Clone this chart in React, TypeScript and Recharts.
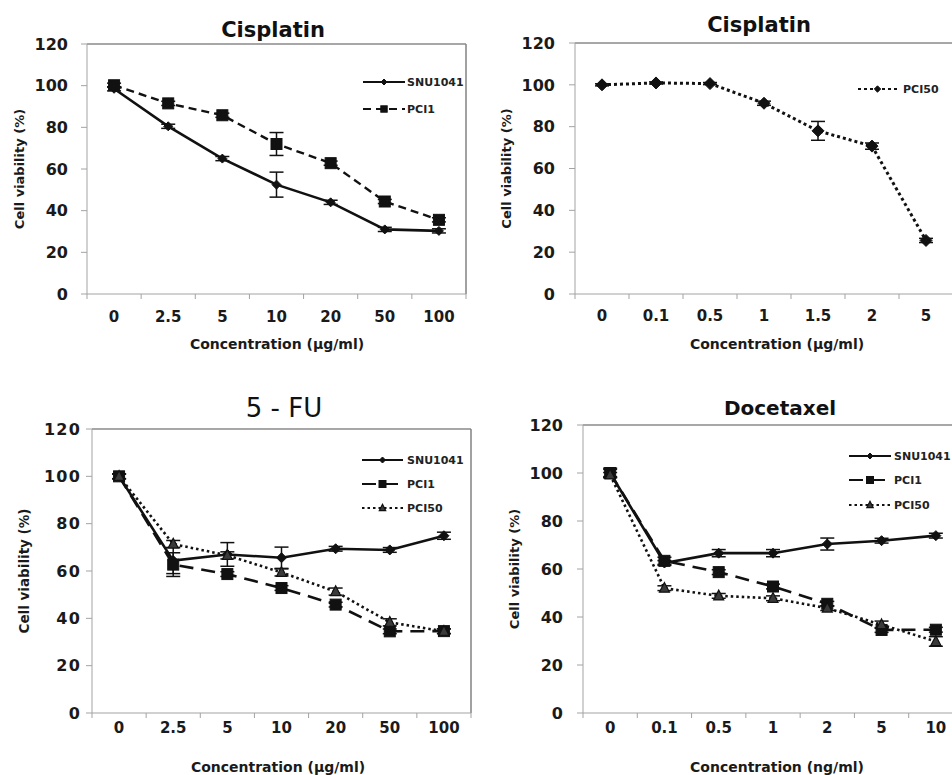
import React from "react";
import { LineChart, Line, XAxis, YAxis, ReferenceLine, ErrorBar } from "recharts";

const FONT = '"DejaVu Sans", "Noto Sans", sans-serif';
const AXIS = "#a3a3a3";
const FRAME = "#8a8a8a";
const INK = "#111";
const Y_AXIS_W = 40;
const X_AXIS_H = 30;

// ---------- data ----------
const yTicks = [0, 20, 40, 60, 80, 100, 120];

const cisplatinDoses = ["0", "2.5", "5", "10", "20", "50", "100"];
const cisSNU1041 = [98.5, 80.5, 65, 52.5, 44, 31, 30.3];
const cisSNU1041Err = [1, 1, 1, 6, 1, 1, 1];
const cisPCI1 = [100.2, 91.5, 85.8, 72, 62.8, 44.4, 35.6];
const cisPCI1Err = [1, 1, 1, 5.5, 1, 1, 1];

const cisplatinLowDoses = ["0", "0.1", "0.5", "1", "1.5", "2", "5"];
const cisPCI50 = [100, 100.9, 100.6, 91.2, 78, 70.7, 25.6];
const cisPCI50Err = [0.5, 0.5, 0.5, 1, 4.5, 1.5, 1];

const fuDoses = ["0", "2.5", "5", "10", "20", "50", "100"];
const fuSNU1041 = [100, 64.4, 67, 65.6, 69.4, 68.9, 74.9];
const fuSNU1041Err = [1, 5.5, 5, 4.5, 1, 1, 1.5];
const fuPCI1 = [100, 62.7, 58.7, 52.8, 45.8, 34.5, 34.6];
const fuPCI1Err = [1, 5, 1, 1, 1, 1, 1];
const fuPCI50 = [100, 71.4, 66.6, 59.4, 51.3, 38.3, 34.5];
const fuPCI50Err = [1, 1.5, 1.5, 1.5, 1.5, 1.5, 1];

const docetaxelDoses = ["0", "0.1", "0.5", "1", "2", "5", "10"];
const docSNU1041 = [100, 62.5, 66.6, 66.6, 70.4, 71.8, 73.9];
const docSNU1041Err = [1.5, 1, 1.5, 1.5, 2.5, 1, 1];
const docPCI1 = [100, 63.4, 58.7, 52.7, 45.5, 34.6, 34.7];
const docPCI1Err = [2, 1.5, 1, 1, 1, 1, 1];
const docPCI50 = [99.2, 52, 48.8, 47.8, 43.7, 36.8, 29.8];
const docPCI50Err = [1, 1, 1, 1, 1, 1.5, 2];

// ---------- helpers ----------
type MarkerKind = "diamond" | "square" | "triangle";

function marker(kind: MarkerKind, cx: number, cy: number, s: number, fill: string, key?: string) {
  if (cx == null || cy == null) return <g key={key} />;
  if (kind === "diamond")
    return (
      <polygon key={key} points={`${cx},${cy - s} ${cx + s},${cy} ${cx},${cy + s} ${cx - s},${cy}`}
        fill={fill} stroke={INK} strokeWidth={1} />
    );
  if (kind === "square")
    return <rect key={key} x={cx - s} y={cy - s} width={2 * s} height={2 * s} fill={fill} stroke={INK} strokeWidth={1} />;
  return (
    <polygon key={key} points={`${cx},${cy - s * 1.15} ${cx + s},${cy + s * 0.8} ${cx - s},${cy + s * 0.8}`}
      fill={fill} stroke={INK} strokeWidth={1.2} />
  );
}

interface SeriesDef {
  key: string;
  name: string;
  values: number[];
  errors: number[];
  dash?: string;
  width: number;
  marker: MarkerKind;
  size: number;
  legendSize: number;
  fill: string;
}

interface PanelDef {
  id: string;
  box: { x: number; y: number; w: number; h: number };
  plot: { left: number; top: number; right: number; bottom: number };
  categories: string[];
  series: SeriesDef[];
  title: { text: string; cx: number; baseline: number; size: number; weight: string };
  xTitle: { text: string; cx: number; baseline: number };
  yTitle: { x: number; size: number };
  xTickDy: number;
  yTickGap: number;
  yTickSpacing: number;
  legend: { x1: number; x2: number; textX: number; rows: number[] };
}

const snu = (values: number[], errors: number[], size: number): SeriesDef => ({
  key: "snu", name: "SNU1041", values, errors, width: 2.6, marker: "diamond", size, legendSize: 3, fill: INK,
});

const panels: PanelDef[] = [
  {
    id: "p1",
    box: { x: 0, y: 0, w: 476, h: 380 },
    plot: { left: 87, top: 44, right: 466, bottom: 294 },
    categories: cisplatinDoses,
    series: [
      snu(cisSNU1041, cisSNU1041Err, 4.5),
      { key: "pci1", name: "PCI1", values: cisPCI1, errors: cisPCI1Err, dash: "8 5", width: 2.4, marker: "square", size: 5.5, legendSize: 3.2, fill: INK },
    ],
    title: { text: "Cisplatin", cx: 273, baseline: 37, size: 21, weight: "bold" },
    xTitle: { text: "Concentration (\u00b5g/ml)", cx: 277, baseline: 349 },
    yTitle: { x: 24, size: 13 },
    xTickDy: 27.5,
    yTickGap: 19,
    yTickSpacing: 0,
    legend: { x1: 363, x2: 405, textX: 407, rows: [82, 109] },
  },
  {
    id: "p2",
    box: { x: 476, y: 0, w: 500, h: 380 },
    plot: { left: 575, top: 43, right: 953, bottom: 294 },
    categories: cisplatinLowDoses,
    series: [
      { key: "pci50", name: "PCI50", values: cisPCI50, errors: cisPCI50Err, dash: "3 3", width: 3, marker: "diamond", size: 6, legendSize: 3.2, fill: INK },
    ],
    title: { text: "Cisplatin", cx: 759, baseline: 32, size: 21, weight: "bold" },
    xTitle: { text: "Concentration (\u00b5g/ml)", cx: 777, baseline: 349 },
    yTitle: { x: 511, size: 13 },
    xTickDy: 26.5,
    yTickGap: 20,
    yTickSpacing: 0,
    legend: { x1: 858, x2: 897, textX: 903, rows: [89] },
  },
  {
    id: "p3",
    box: { x: 0, y: 380, w: 476, h: 395 },
    plot: { left: 92, top: 429, right: 471, bottom: 713 },
    categories: fuDoses,
    series: [
      snu(fuSNU1041, fuSNU1041Err, 5),
      { key: "pci1", name: "PCI1", values: fuPCI1, errors: fuPCI1Err, dash: "14 8", width: 2.6, marker: "square", size: 5.5, legendSize: 3.5, fill: INK },
      { key: "pci50", name: "PCI50", values: fuPCI50, errors: fuPCI50Err, dash: "2.5 3", width: 2.6, marker: "triangle", size: 5, legendSize: 3.2, fill: "#3a3a3a" },
    ],
    title: { text: "5 - FU", cx: 284, baseline: 417, size: 26, weight: "normal" },
    xTitle: { text: "Concentration (\u00b5g/ml)", cx: 278, baseline: 772 },
    yTitle: { x: 29, size: 13.5 },
    xTickDy: 19.5,
    yTickGap: 11,
    yTickSpacing: 1.2,
    legend: { x1: 362, x2: 403, textX: 407, rows: [460, 484, 508] },
  },
  {
    id: "p4",
    box: { x: 476, y: 380, w: 500, h: 395 },
    plot: { left: 583, top: 425, right: 963, bottom: 713 },
    categories: docetaxelDoses,
    series: [
      snu(docSNU1041, docSNU1041Err, 5),
      { key: "pci1", name: "PCI1", values: docPCI1, errors: docPCI1Err, dash: "14 8", width: 2.6, marker: "square", size: 5.5, legendSize: 3.5, fill: INK },
      { key: "pci50", name: "PCI50", values: docPCI50, errors: docPCI50Err, dash: "2.5 3", width: 2.6, marker: "triangle", size: 5, legendSize: 3.2, fill: "#3a3a3a" },
    ],
    title: { text: "Docetaxel", cx: 780, baseline: 415, size: 20, weight: "bold" },
    xTitle: { text: "Concentration (ng/ml)", cx: 777, baseline: 772 },
    yTitle: { x: 519, size: 13 },
    xTickDy: 19.5,
    yTickGap: 20,
    yTickSpacing: 0,
    legend: { x1: 849, x2: 891, textX: 894, rows: [456, 480, 505] },
  },
];

function Panel({ def }: { def: PanelDef }) {
  const { box, plot, categories, series } = def;
  const n = categories.length;
  const data = categories.map((c, i) => {
    const row: Record<string, any> = { idx: i, dose: c };
    series.forEach((s) => {
      row[s.key] = s.values[i];
      row[s.key + "Err"] = s.errors[i];
    });
    return row;
  });
  const xTicks: number[] = [];
  for (let i = 0; i <= 2 * n; i++) xTicks.push(-0.5 + i * 0.5);

  const margin = {
    top: plot.top - box.y,
    left: plot.left - box.x - Y_AXIS_W,
    right: box.x + box.w - plot.right,
    bottom: box.y + box.h - plot.bottom - X_AXIS_H,
  };

  const renderXTick = (p: any) => {
    const v = p.payload.value;
    if (Math.abs(v - Math.round(v)) < 1e-6) {
      return (
        <text x={p.x} y={p.y + def.xTickDy} textAnchor="middle" fontFamily={FONT} fontWeight="bold"
          fontSize={15} fill="#1a1a1a">
          {categories[Math.round(v)]}
        </text>
      );
    }
    return <line x1={p.x} x2={p.x} y1={p.y} y2={p.y + 5} stroke={AXIS} strokeWidth={1} />;
  };

  const renderYTick = (p: any) => (
    <g>
      <line x1={p.x - 6} x2={p.x} y1={p.y} y2={p.y} stroke={AXIS} strokeWidth={1} />
      <text x={p.x - def.yTickGap} y={p.y + 5.8} textAnchor="end" fontFamily={FONT} fontWeight="bold"
        fontSize={16} letterSpacing={def.yTickSpacing} fill="#1a1a1a">
        {p.payload.value}
      </text>
    </g>
  );

  const lx = (x: number) => x - box.x;
  const ly = (y: number) => y - box.y;
  const yMid = ly((plot.top + plot.bottom) / 2);

  return (
    <div style={{ position: "absolute", left: box.x, top: box.y, width: box.w, height: box.h }}>
      <LineChart width={box.w} height={box.h} data={data} margin={margin}>
        <XAxis type="number" dataKey="idx" domain={[-0.5, n - 0.5]} ticks={xTicks} interval={0}
          height={X_AXIS_H} tickSize={0} tickMargin={0} tickLine={false}
          axisLine={{ stroke: AXIS, strokeWidth: 1 }} tick={renderXTick} allowDataOverflow />
        <YAxis type="number" domain={[0, 120]} ticks={yTicks} interval={0} width={Y_AXIS_W} tickSize={0}
          tickMargin={0} tickLine={false} axisLine={{ stroke: AXIS, strokeWidth: 1 }} tick={renderYTick} />
        <ReferenceLine y={120} stroke={FRAME} strokeWidth={1.6} />
        <ReferenceLine x={n - 0.5} stroke={FRAME} strokeWidth={1.6} />
        {series.map((s) => (
          <Line key={s.key} type="linear" dataKey={s.key} name={s.name} stroke={INK} strokeWidth={s.width}
            strokeDasharray={s.dash} isAnimationActive={false} activeDot={false}
            dot={(p: any) => marker(s.marker, p.cx, p.cy, s.size, s.fill, `${def.id}-${s.key}-${p.index}`)}>
            <ErrorBar dataKey={s.key + "Err"} width={7} stroke={INK} strokeWidth={1.5} direction="y" />
          </Line>
        ))}
      </LineChart>
      <svg width={box.w} height={box.h}
        style={{ position: "absolute", left: 0, top: 0, pointerEvents: "none", overflow: "visible" }}>
        <text x={lx(def.title.cx)} y={ly(def.title.baseline)} textAnchor="middle" fontFamily={FONT}
          fontWeight={def.title.weight} fontSize={def.title.size} fill="#111">
          {def.title.text}
        </text>
        <text x={lx(def.xTitle.cx)} y={ly(def.xTitle.baseline)} textAnchor="middle" fontFamily={FONT}
          fontWeight="bold" fontSize={14} fill="#1a1a1a">
          {def.xTitle.text}
        </text>
        <text x={lx(def.yTitle.x)} y={yMid} textAnchor="middle" fontFamily={FONT} fontWeight="bold"
          fontSize={def.yTitle.size} fill="#1a1a1a" transform={`rotate(-90 ${lx(def.yTitle.x)} ${yMid})`}>
          Cell viability (%)
        </text>
        {series.map((s, i) => {
          const y = ly(def.legend.rows[i]);
          const x1 = lx(def.legend.x1);
          const x2 = lx(def.legend.x2);
          return (
            <g key={s.key}>
              <line x1={x1} x2={x2} y1={y} y2={y} stroke={INK} strokeWidth={2.2} strokeDasharray={s.dash} />
              {marker(s.marker, (x1 + x2) / 2, y, s.legendSize, s.fill)}
              <text x={lx(def.legend.textX)} y={y + 4} fontFamily={FONT} fontWeight="bold" fontSize={11}
                fill="#222">
                {s.name}
              </text>
            </g>
          );
        })}
      </svg>
    </div>
  );
}

export default function App() {
  return (
    <div style={{ position: "absolute", left: 0, top: 0, width: 952, height: 775, overflow: "hidden", background: "#fff" }}>
      {panels.map((p) => (
        <Panel key={p.id} def={p} />
      ))}
    </div>
  );
}
